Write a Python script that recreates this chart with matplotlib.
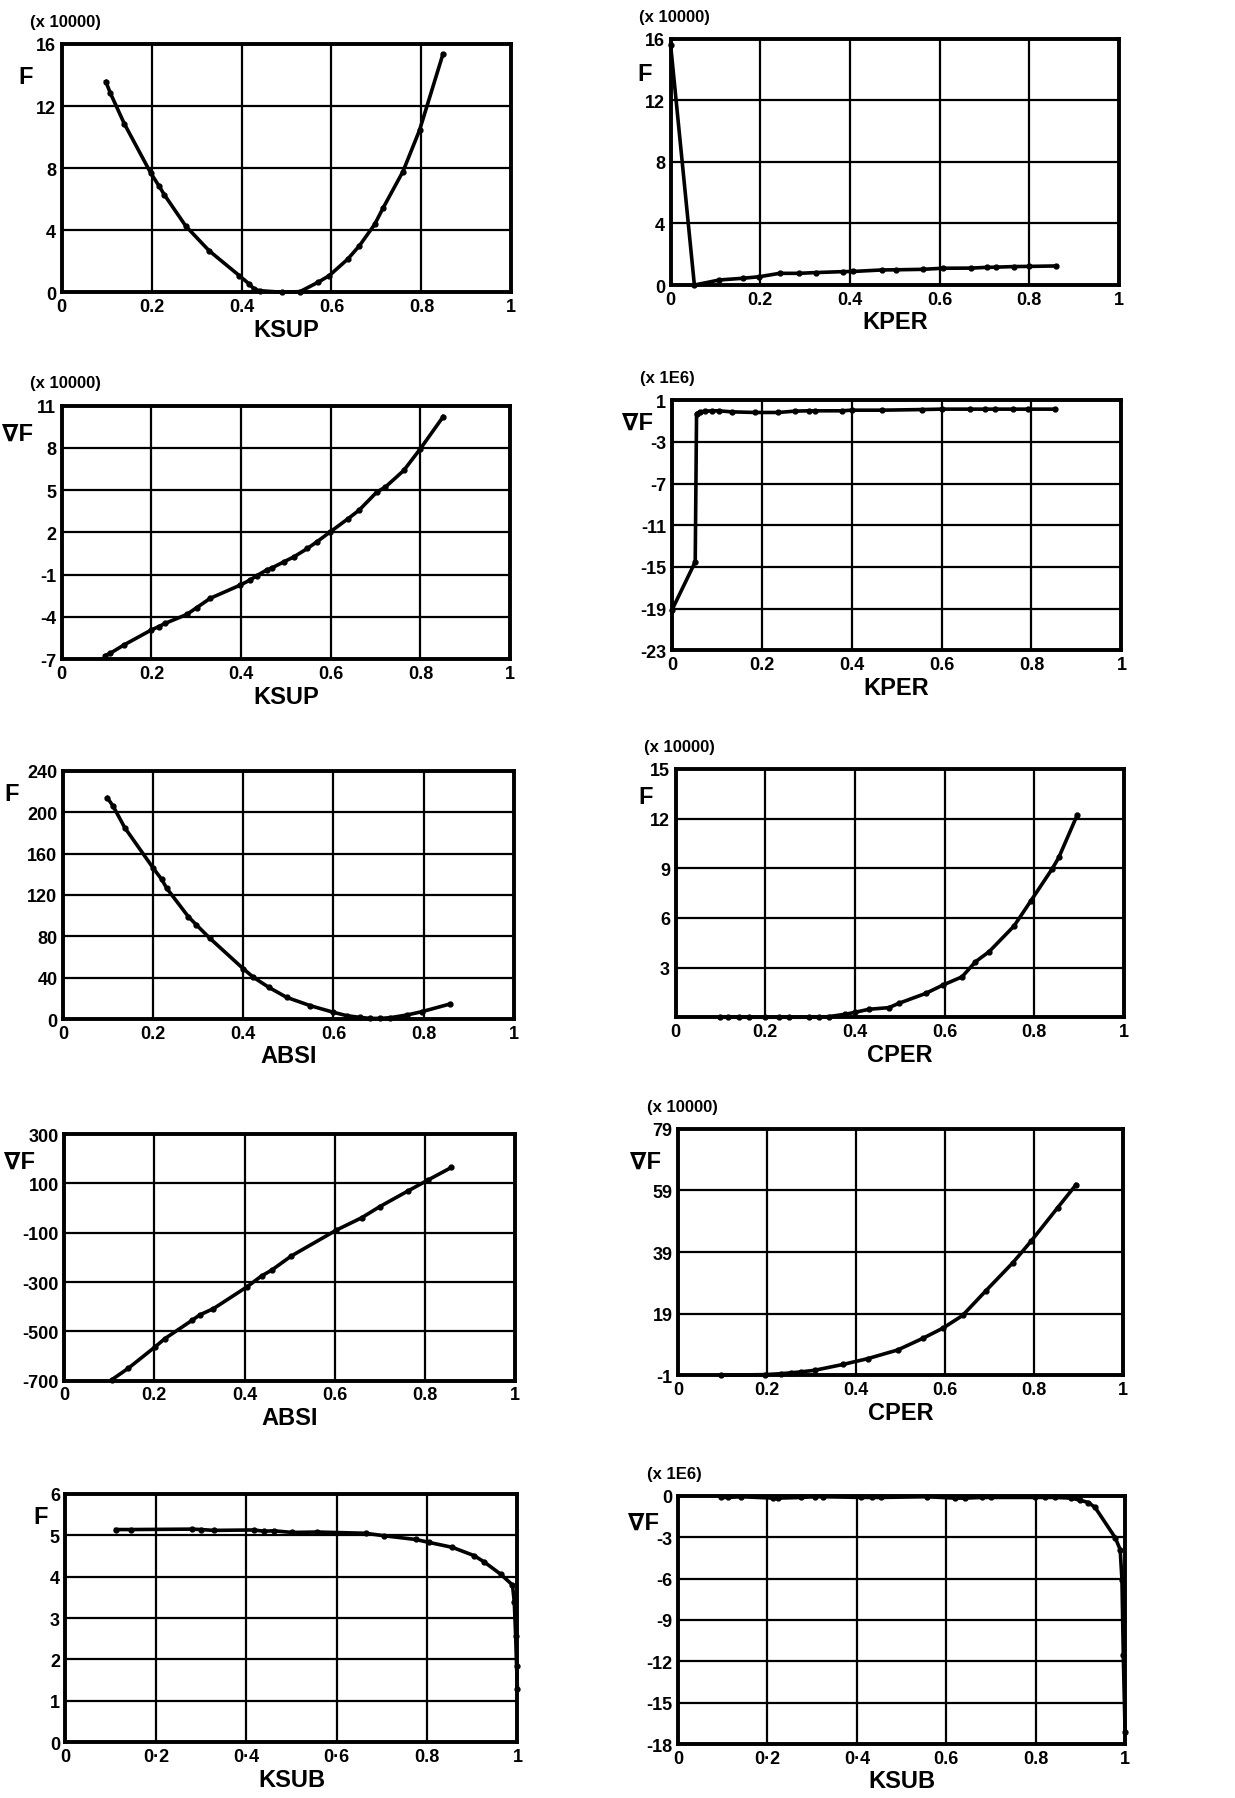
import numpy as np
import matplotlib
matplotlib.use("Agg")
import matplotlib.pyplot as plt

plt.rcParams['font.family'] = ['Liberation Sans', 'DejaVu Sans']
plt.rcParams['font.weight'] = 'bold'

# --- data ---
ksup_f_x = [0.098, 0.108, 0.139, 0.198, 0.217, 0.228, 0.276, 0.328, 0.395, 0.417, 0.428, 0.44,
            0.49, 0.53, 0.57, 0.595, 0.636, 0.662, 0.696, 0.715, 0.759, 0.796, 0.848]
ksup_f_y = [13.58, 12.84, 10.87, 7.68, 6.82, 6.29, 4.26, 2.67, 1.07, 0.53, 0.21, 0.1,
            0.0, 0.04, 0.64, 1.07, 2.13, 2.99, 4.37, 5.44, 7.78, 10.45, 15.35]

kper_f_x = [0.0, 0.053, 0.109, 0.161, 0.198, 0.243, 0.287, 0.324, 0.384, 0.406, 0.472, 0.503,
            0.562, 0.607, 0.67, 0.706, 0.725, 0.766, 0.8, 0.859]
kper_f_y = [15.6, 0.0, 0.33, 0.44, 0.54, 0.76, 0.76, 0.81, 0.87, 0.88, 0.98, 0.99,
            1.02, 1.09, 1.1, 1.15, 1.16, 1.2, 1.21, 1.24]

ksup_g_x = [0.097, 0.108, 0.138, 0.2, 0.216, 0.231, 0.279, 0.301, 0.331, 0.398, 0.42, 0.435,
            0.457, 0.47, 0.496, 0.518, 0.548, 0.569, 0.599, 0.639, 0.663, 0.703, 0.722,
            0.763, 0.8, 0.851]
ksup_g_y = [-6.74, -6.58, -6.0, -4.92, -4.69, -4.45, -3.82, -3.34, -2.68, -1.74, -1.38, -1.07,
            -0.67, -0.5, -0.08, 0.27, 0.86, 1.33, 2.04, 2.98, 3.57, 4.87, 5.22,
            6.4, 7.94, 10.22]

kper_g_x = [0.0, 0.052, 0.055, 0.063, 0.074, 0.089, 0.104, 0.133, 0.185, 0.237, 0.274, 0.304,
            0.319, 0.378, 0.4, 0.467, 0.556, 0.6, 0.663, 0.696, 0.719, 0.759, 0.793, 0.852]
kper_g_y = [-19.16, -14.52, -0.28, -0.12, -0.06, -0.02, -0.02, -0.12, -0.18, -0.18, -0.05, -0.02,
            -0.02, -0.02, 0.04, 0.04, 0.1, 0.14, 0.14, 0.14, 0.14, 0.14, 0.14, 0.14]

absi_f_x = [0.098, 0.111, 0.137, 0.2, 0.219, 0.23, 0.278, 0.296, 0.326, 0.4, 0.422, 0.456,
            0.496, 0.548, 0.6, 0.63, 0.659, 0.681, 0.704, 0.726, 0.763, 0.796, 0.859]
absi_f_y = [214, 206, 185, 146, 135, 126.5, 99, 91, 78, 48.6, 40.5, 30.8,
            21, 13, 6.5, 3.2, 1.6, 0.6, 0.6, 1.3, 3.9, 7.1, 14.6]

cper_f_x = [0.1, 0.118, 0.141, 0.164, 0.2, 0.23, 0.253, 0.297, 0.32, 0.342, 0.379, 0.401,
            0.431, 0.476, 0.498, 0.558, 0.596, 0.639, 0.669, 0.699, 0.755, 0.793, 0.84,
            0.855, 0.896]
cper_f_y = [0.0, 0.0, 0.0, 0.0, 0.0, 0.0, 0.0, 0.0, 0.0, 0.04, 0.18, 0.3,
            0.48, 0.58, 0.84, 1.44, 1.94, 2.44, 3.35, 3.95, 5.51, 7.05, 8.96,
            9.66, 12.22]

absi_g_x = [0.105, 0.142, 0.201, 0.223, 0.283, 0.301, 0.331, 0.405, 0.438, 0.46, 0.504,
            0.604, 0.66, 0.7, 0.763, 0.808, 0.859]
absi_g_y = [-697, -650, -564, -530, -456, -433, -408, -320, -275, -252, -194,
            -89, -39, 6, 70, 115, 165]

cper_g_x = [0.096, 0.195, 0.232, 0.255, 0.277, 0.307, 0.371, 0.427, 0.494, 0.551, 0.596,
            0.64, 0.693, 0.753, 0.794, 0.854, 0.895]
cper_g_y = [-1.0, -0.8, -0.5, -0.2, 0.1, 0.6, 2.5, 4.4, 7.2, 11.0, 14.3,
            18.4, 26.5, 35.5, 42.5, 53.4, 60.8]

ksub_f_x = [0.111, 0.144, 0.28, 0.3, 0.328, 0.417, 0.439, 0.461, 0.502, 0.557, 0.664, 0.705,
            0.775, 0.804, 0.856, 0.904, 0.926, 0.963, 0.989, 0.993, 0.996, 0.998, 1.0]
ksub_f_y = [5.14, 5.14, 5.15, 5.14, 5.12, 5.13, 5.1, 5.11, 5.07, 5.08, 5.05, 4.99,
            4.9, 4.83, 4.71, 4.51, 4.36, 4.06, 3.8, 3.38, 2.57, 1.84, 1.28]

ksub_g_x = [0.097, 0.112, 0.142, 0.213, 0.224, 0.276, 0.306, 0.325, 0.41, 0.433, 0.455,
            0.556, 0.619, 0.642, 0.679, 0.701, 0.799, 0.821, 0.843, 0.88, 0.899, 0.918,
            0.933, 0.978, 0.989, 0.993, 0.996, 1.0]
ksub_g_y = [-0.12, -0.12, -0.07, -0.17, -0.17, -0.12, -0.07, -0.07, -0.12, -0.12, -0.12,
            -0.07, -0.17, -0.17, -0.12, -0.12, -0.12, -0.12, -0.12, -0.17, -0.32, -0.49,
            -0.85, -3.04, -3.9, -6.08, -11.56, -17.15]

x_ticks = [0, 0.2, 0.4, 0.6, 0.8, 1]
x_labels = ['0', '0.2', '0.4', '0.6', '0.8', '1']
x_labels_dot = ['0', '0·2', '0·4', '0·6', '0.8', '1']
x_labels_dot2 = ['0', '0·2', '0·4', '0.6', '0.8', '1']

panels = [
    # rect, x, y, xlabel, ylabel, ylabel pos, scale, yticks, yticklabels, xticklabels
    ([0.050, 0.837, 0.364, 0.138], ksup_f_x, ksup_f_y, 'KSUP', 'F', (-0.08, 0.87), '(x 10000)',
     [0, 4, 8, 12, 16], None, x_labels),
    ([0.543, 0.841, 0.363, 0.137], kper_f_x, kper_f_y, 'KPER', 'F', (-0.058, 0.86), '(x 10000)',
     [0, 4, 8, 12, 16], None, x_labels),
    ([0.050, 0.633, 0.363, 0.141], ksup_g_x, ksup_g_y, 'KSUP', '∇F', (-0.098, 0.89), '(x 10000)',
     [-7, -4, -1, 2, 5, 8, 11], None, x_labels),
    ([0.544, 0.638, 0.364, 0.139], kper_g_x, kper_g_y, 'KPER', '∇F', (-0.076, 0.91), '(x 1E6)',
     [-23, -19, -15, -11, -7, -3, 1], None, x_labels),
    ([0.051, 0.433, 0.365, 0.138], absi_f_x, absi_f_y, 'ABSI', 'F', (-0.115, 0.91), None,
     [0, 40, 80, 120, 160, 200, 240], None, x_labels),
    ([0.547, 0.434, 0.363, 0.138], cper_f_x, cper_f_y, 'CPER', 'F', (-0.067, 0.89), '(x 10000)',
     [0, 3, 6, 9, 12, 15], ['', '3', '6', '9', '12', '15'], x_labels),
    ([0.052, 0.232, 0.365, 0.137], absi_g_x, absi_g_y, 'ABSI', '∇F', (-0.10, 0.89), None,
     [-700, -500, -300, -100, 100, 300], None, x_labels),
    ([0.549, 0.235, 0.360, 0.137], cper_g_x, cper_g_y, 'CPER', '∇F', (-0.074, 0.87), '(x 10000)',
     [-1, 19, 39, 59, 79], None, x_labels),
    ([0.053, 0.031, 0.366, 0.138], ksub_f_x, ksub_f_y, 'KSUB', 'F', (-0.056, 0.91), None,
     [0, 1, 2, 3, 4, 5, 6], None, x_labels_dot),
    ([0.549, 0.030, 0.362, 0.138], ksub_g_x, ksub_g_y, 'KSUB', '∇F', (-0.078, 0.895), '(x 1E6)',
     [-18, -15, -12, -9, -6, -3, 0], None, x_labels_dot2),
]

fig = plt.figure(figsize=(12.35, 17.99), dpi=100)

for rect, xs, ys, xlab, ylab, ypos, scale, yt, ytl, xtl in panels:
    ax = fig.add_axes(rect)
    ax.plot(xs, ys, '-o', color='black', lw=2.6, ms=3.5, zorder=3, clip_on=False)
    ax.set_xlim(0, 1)
    ax.set_ylim(yt[0], yt[-1])
    ax.set_xticks(x_ticks)
    ax.set_xticklabels(xtl)
    ax.set_yticks(yt)
    ax.set_yticklabels(ytl if ytl is not None else [str(v) for v in yt])
    ax.grid(True, color='black', lw=1.6)
    ax.tick_params(length=0, labelsize=13, pad=4)
    for s in ax.spines.values():
        s.set_linewidth(2.8)
    ax.set_xlabel(xlab, fontsize=17, fontweight='bold', labelpad=2)
    ax.text(ypos[0], ypos[1], ylab, transform=ax.transAxes, fontsize=17,
            fontweight='bold', ha='center', va='center')
    if scale:
        ax.text(-0.07, 1.06, scale, transform=ax.transAxes, fontsize=12,
                fontweight='bold', ha='left', va='bottom')

plt.savefig("out.png", dpi=100)
